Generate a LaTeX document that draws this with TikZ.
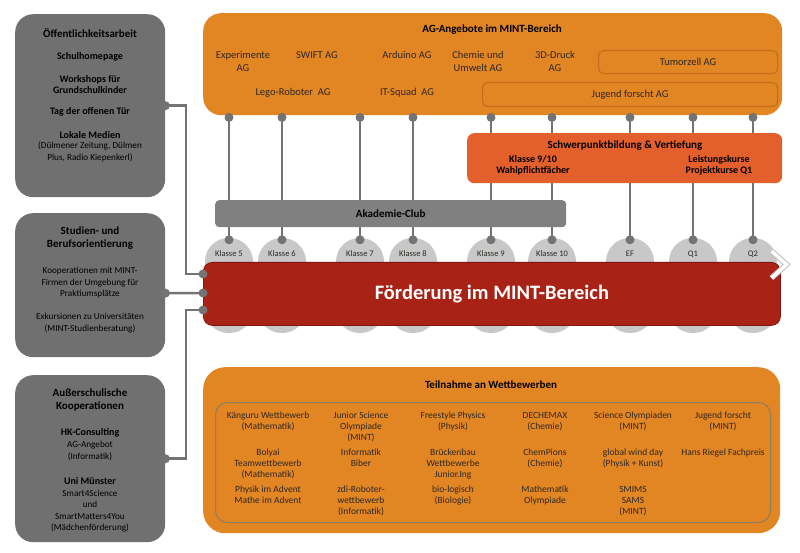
\documentclass[tikz,border=0pt]{standalone}
\usepackage{fontspec}
\setmainfont{Carlito}
\usetikzlibrary{shapes.geometric,calc,backgrounds}
\definecolor{boxgray}{RGB}{112,112,112}
\definecolor{clubgray}{RGB}{128,128,128}
\definecolor{linegray}{RGB}{115,115,115}
\definecolor{ellgray}{RGB}{200,200,200}
\definecolor{agorange}{RGB}{226,133,35}
\definecolor{agedge}{RGB}{196,110,25}
\definecolor{spred}{RGB}{227,96,44}
\definecolor{mintred}{RGB}{168,34,22}
\definecolor{mintedge}{RGB}{130,22,14}
\definecolor{txtdark}{RGB}{45,40,35}
\definecolor{innerline}{RGB}{140,125,100}
\definecolor{chevshade}{RGB}{190,190,190}
\tikzset{
 gbox/.style={anchor=north west, fill=boxgray, rounded corners=18pt, inner sep=0pt},
 obox/.style={anchor=north west, fill=agorange, rounded corners=18pt, inner sep=0pt},
 ibox/.style={anchor=north west, fill=agorange, draw=agedge, line width=1.2pt, rounded corners=5pt, inner sep=0pt, font=\fontsize{10.5}{12}\selectfont, text=txtdark},
 inbox/.style={anchor=north west, draw=innerline, line width=1pt, rounded corners=12pt, inner sep=0pt},
 spbox/.style={anchor=north west, fill=spred, rounded corners=7pt, inner sep=0pt},
 clubbox/.style={anchor=north west, fill=clubgray, rounded corners=4pt, inner sep=0pt, font=\fontsize{11}{13}\selectfont\bfseries, text=black},
 redbox/.style={anchor=north west, fill=mintred, draw=mintedge, line width=0.8pt, rounded corners=9pt, inner sep=0pt, text=white, font=\fontsize{20.5}{24}\selectfont\bfseries},
 pill/.style={rectangle, fill=ellgray, rounded corners=23.5pt, minimum width=48pt, minimum height=95pt, inner sep=0pt},
 conn/.style={draw=linegray, line width=2.5pt},
 dotc/.style={fill=linegray},
 ttl/.style={align=center, inner sep=0pt, font=\fontsize{11}{13}\selectfont\bfseries, text=black},
 litb/.style={align=center, inner sep=0pt, font=\fontsize{10}{11.5}\selectfont\bfseries, text=black},
 litr/.style={align=center, inner sep=0pt, font=\fontsize{9.2}{11.5}\selectfont, text=black},
 agit/.style={align=center, inner sep=0pt, font=\fontsize{10.5}{13}\selectfont, text=txtdark},
 kl/.style={inner sep=0pt, font=\fontsize{8.5}{9}\selectfont, text=txtdark},
 wb/.style={align=center, inner sep=0pt, anchor=north, font=\fontsize{9.5}{11}\selectfont, text=txtdark},
 spsub/.style={align=center, inner sep=0pt, font=\fontsize{10}{11}\selectfont\bfseries, text=black},
}
\begin{document}
\begin{tikzpicture}[x=1pt,y=-1pt]
\useasboundingbox (0,0) rectangle (800,553);

% ---------- left boxes ----------
\node[gbox, minimum width=150pt, minimum height=183pt] (oa) at (15,14) {};
\node[ttl] (oa-h) at (90,33) {Öffentlichkeitsarbeit};
\node[litb] (oa-1) at (90,57) {Schulhomepage};
\node[litb] (oa-2) at (90,84.5) {Workshops für\\Grundschulkinder};
\node[litb] (oa-3) at (90,112) {Tag der offenen Tür};
\node[litb] (oa-4) at (90,135) {Lokale Medien};
\node[litr] (oa-5) at (90,152) {(Dülmener Zeitung, Dülmen\\Plus, Radio Kiepenkerl)};

\node[gbox, minimum width=150pt, minimum height=144pt] (sb) at (15,213) {};
\node[ttl] (sb-h) at (90,238.5) {Studien- und\\Berufsorientierung};
\node[litr] (sb-1) at (90,283) {Kooperationen mit MINT-\\Firmen der Umgebung für\\Praktiumsplätze};
\node[litr] (sb-2) at (90,323) {Exkursionen zu Universitäten\\(MINT-Studienberatung)};

\node[gbox, minimum width=150pt, minimum height=167pt] (ak) at (15,375) {};
\node[ttl] (ak-h) at (90,400) {Außerschulische\\Kooperationen};
\node[litb] (ak-1) at (90,433) {HK-Consulting};
\node[litr] (ak-2) at (90,451) {AG-Angebot\\(Informatik)};
\node[litb] (ak-3) at (90,481) {Uni Münster};
\node[litr] (ak-4) at (90,511) {Smart4Science\\und\\SmartMatters4You\\(Mädchenförderung)};

% ---------- grade pills ----------
\foreach \n/\x/\t in {e5/229/Klasse 5, e6/282/Klasse 6, e7/360/Klasse 7, e8/413/Klasse 8, e9/491/Klasse 9, e10/552/Klasse 10, eEF/630/EF, eQ1/693/Q1, eQ2/753/Q2}{
  \node[pill] (\n) at (\x,285.5) {};
  \node[kl] (\n-l) at (\x,254) {\t};
}

% ---------- main red bar ----------
\node[redbox, minimum width=577pt, minimum height=63pt] (red) at (203,262) {Förderung im MINT-Bereich};
\draw[chevshade, line width=5.5pt] (771.5,251) -- (786.5,264.5) -- (771.5,278);
\draw[white, line width=3.5pt] (771.5,251) -- (786.5,264.5) -- (771.5,278);

% ---------- AG box ----------
\node[obox, minimum width=579pt, minimum height=102pt] (ag) at (203,13) {};
\node[ttl] (ag-h) at (492,30) {AG-Angebote im MINT-Bereich};
\node[agit] (ag1) at (243,61.5) {Experimente\\AG};
\node[agit] (ag2) at (317,55) {SWIFT AG};
\node[agit] (ag3) at (407,55) {Arduino AG};
\node[agit] (ag4) at (478,61.5) {Chemie und\\Umwelt AG};
\node[agit] (ag5) at (555,61.5) {3D-Druck\\AG};
\node[agit] (ag6) at (293,93) {Lego-Roboter\ \ AG};
\node[agit] (ag7) at (407,93) {IT-Squad\ \ AG};
\node[ibox, minimum width=179pt, minimum height=23pt] (tz) at (598,50) {Tumorzell AG};
\node[ibox, minimum width=295pt, minimum height=24pt] (jf) at (482,82) {Jugend forscht AG};

% ---------- Schwerpunkt box ----------
\node[spbox, minimum width=315pt, minimum height=50pt] (sp) at (467,133) {};
\node[ttl] (sp-t) at (625,146) {Schwerpunktbildung \& Vertiefung};
\node[spsub] (sp-a) at (533,165.5) {Klasse 9/10\\Wahlpflichtfächer};
\node[spsub] (sp-b) at (719,165.5) {Leistungskurse\\Projektkurse Q1};

% ---------- Akademie-Club ----------
\node[clubbox, minimum width=351pt, minimum height=27pt] (club) at (215,200) {Akademie-Club};

% ---------- Wettbewerbe ----------
\node[obox, rounded corners=22pt, minimum width=577pt, minimum height=166pt] (wb) at (203,367) {};
\node[ttl] (wb-h) at (491,385) {Teilnahme an Wettbewerben};
\node[inbox, minimum width=555pt, minimum height=120pt] (wbi) at (215,402) {};
\node[wb] (w11) at (268,412) {Känguru Wettbewerb\\(Mathematik)};
\node[wb] (w12) at (268,449) {Bolyai\\Teamwettbewerb\\(Mathematik)};
\node[wb] (w13) at (268,486) {Physik im Advent\\Mathe im Advent};
\node[wb] (w21) at (361,412) {Junior Science\\Olympiade\\(MINT)};
\node[wb] (w22) at (361,449) {Informatik\\Biber};
\node[wb] (w23) at (361,486) {zdi-Roboter-\\wettbewerb\\(Informatik)};
\node[wb] (w31) at (453,412) {Freestyle Physics\\(Physik)};
\node[wb] (w32) at (453,449) {Brückenbau\\Wettbewerbe\\Junior.Ing};
\node[wb] (w33) at (453,486) {bio-logisch\\(Biologie)};
\node[wb] (w41) at (545,412) {DECHEMAX\\(Chemie)};
\node[wb] (w42) at (545,449) {ChemPions\\(Chemie)};
\node[wb] (w43) at (545,486) {Mathematik\\Olympiade};
\node[wb] (w51) at (633,412) {Science Olympiaden\\(MINT)};
\node[wb] (w52) at (633,449) {global wind day\\(Physik + Kunst)};
\node[wb] (w53) at (633,486) {SMIMS\\SAMS\\(MINT)};
\node[wb] (w61) at (723,412) {Jugend forscht\\(MINT)};
\node[wb] (w62) at (723,449) {Hans Riegel Fachpreis};

% ---------- connectors ----------
\coordinate (r1) at ($(red.north west)+(0,12)$);
\coordinate (r2) at ($(red.north west)+(0,31)$);
\coordinate (r3) at ($(red.north west)+(0,48)$);
\coordinate (sbp) at ($(sb.east)+(0,8)$);
\coordinate (bus) at (186,0);
\begin{scope}[on background layer]
  \foreach \n in {e5,e6,e7,e8,e9,e10,eEF,eQ1,eQ2}
    \draw[conn] (ag.south -| \n.north) -- (\n.north);
  \draw[conn] (oa.east) -| (bus |- r1) -- (r1);
  \draw[conn] (sbp) -- (r2);
  \draw[conn] (ak.east) -| (bus |- r3) -- (r3);
\end{scope}
\foreach \n in {e5,e6,e7,e8,e9,e10,eEF,eQ1,eQ2}{
  \fill[dotc] ($(ag.south -| \n.north)+(0,2)$) circle[radius=4.5pt];
  \fill[dotc] ($(\n.north)+(0,2)$) circle[radius=4.5pt];
}
\foreach \p in {oa.east, sbp, ak.east, r1, r2, r3}
  \fill[dotc] (\p) circle[radius=4.5pt];
\end{tikzpicture}
\end{document}
